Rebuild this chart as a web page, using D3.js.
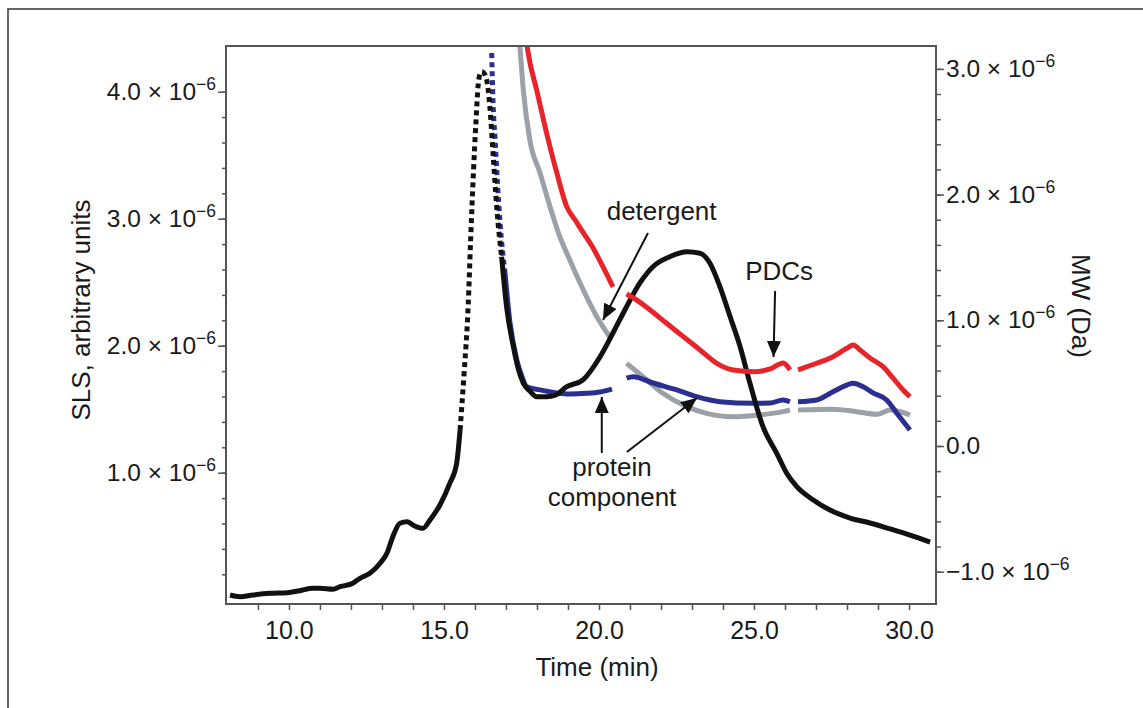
<!DOCTYPE html>
<html>
<head>
<meta charset="utf-8">
<script src="https://cdn.jsdelivr.net/npm/d3@7"></script>
<style>
  body { margin: 0; background: #fff; }
  svg { display: block; font-family: "Liberation Sans", Arial, sans-serif; }
</style>
</head>
<body>
<svg id="chart" width="1143" height="708"></svg>
<script>
// ---- data: [time (min), value (x 10^-6)] ----
// SLS trace (left axis), split where the trace is sparse (dotted)
const slsBase = [
  [8.10, 0.037], [8.42, 0.024], [8.84, 0.037], [9.39, 0.050], [9.94, 0.055],
  [10.35, 0.071], [10.77, 0.090], [11.00, 0.090], [11.42, 0.082], [11.65, 0.102],
  [12.06, 0.129], [12.29, 0.168], [12.61, 0.208], [12.94, 0.287], [13.16, 0.365],
  [13.35, 0.496], [13.58, 0.602], [13.81, 0.614], [14.00, 0.588], [14.32, 0.562],
  [14.55, 0.628], [14.87, 0.746], [15.19, 0.917], [15.41, 1.074], [15.52, 1.336]
];
const slsPeak = [
  [15.52, 1.336], [15.65, 1.785], [15.78, 2.307], [15.86, 2.832], [15.95, 3.360],
  [16.03, 3.754], [16.11, 4.069], [16.16, 4.139], [16.22, 4.157], [16.29, 4.147],
  [16.38, 4.092], [16.48, 3.882], [16.59, 3.488], [16.70, 3.094], [16.86, 2.701]
];
const slsTail = [
  [16.86, 2.701], [17.02, 2.307], [17.24, 1.992], [17.39, 1.824], [17.56, 1.704],
  [17.77, 1.643], [17.99, 1.598], [18.31, 1.598], [18.61, 1.612], [18.96, 1.677],
  [19.48, 1.730], [20.03, 1.911], [20.45, 2.100], [20.89, 2.307], [21.32, 2.494],
  [21.74, 2.622], [22.29, 2.701], [22.83, 2.740], [23.26, 2.728], [23.58, 2.649],
  [23.90, 2.465], [24.23, 2.228], [24.55, 1.994], [24.87, 1.704], [25.29, 1.362],
  [25.73, 1.155], [26.05, 0.998], [26.38, 0.890], [26.90, 0.787], [27.45, 0.706],
  [28.10, 0.643], [28.74, 0.604], [29.39, 0.557], [30.03, 0.509], [30.68, 0.454]
];

// MW traces (right axis), three segments each
const mwPdc = [
  [[17.68, 3.182], [17.77, 3.055], [17.99, 2.832], [18.31, 2.490], [18.64, 2.172],
   [18.96, 1.904], [19.23, 1.798], [19.48, 1.702], [19.81, 1.575], [20.13, 1.424], [20.45, 1.265]],
  [[20.89, 1.209], [21.22, 1.161], [21.65, 1.082], [22.18, 0.976], [22.72, 0.870],
   [23.26, 0.764], [23.80, 0.658], [24.33, 0.605], [24.98, 0.591], [25.52, 0.613],
   [25.94, 0.660], [26.16, 0.605]],
  [[26.42, 0.605], [27.02, 0.658], [27.55, 0.710], [27.99, 0.777], [28.20, 0.803],
   [28.42, 0.764], [28.74, 0.700], [29.16, 0.631], [29.48, 0.541], [29.81, 0.446], [30.03, 0.392]]
];
const mwDetergent = [
  [[17.45, 3.182], [17.56, 2.832], [17.77, 2.434], [18.10, 2.172], [18.42, 1.904],
   [18.74, 1.663], [19.06, 1.480], [19.39, 1.297], [19.93, 1.029], [20.35, 0.867]],
  [[20.89, 0.658], [21.42, 0.551], [22.06, 0.419], [22.83, 0.313], [23.47, 0.260],
   [24.32, 0.233], [25.19, 0.247], [25.94, 0.273], [26.16, 0.286]],
  [[26.42, 0.286], [27.55, 0.292], [28.31, 0.273], [28.96, 0.252], [29.39, 0.286], [30.03, 0.247]]
];
const mwProteinSteep = [
  [16.54, 3.126], [16.58, 2.753], [16.65, 2.434], [16.73, 2.076], [16.81, 1.774], [16.97, 1.376]
];
const mwProtein = [
  [[16.97, 1.376], [17.13, 0.979], [17.35, 0.684], [17.52, 0.549], [17.67, 0.472],
   [18.10, 0.446], [18.64, 0.422], [19.06, 0.414], [19.60, 0.419], [20.03, 0.430], [20.42, 0.453]],
  [[20.89, 0.539], [21.10, 0.551], [21.74, 0.501], [22.51, 0.446], [23.15, 0.392],
   [23.90, 0.352], [24.97, 0.340], [25.52, 0.342], [25.94, 0.366], [26.16, 0.352]],
  [[26.42, 0.352], [27.02, 0.366], [27.55, 0.432], [27.99, 0.485], [28.19, 0.499],
   [28.52, 0.472], [28.84, 0.422], [29.28, 0.366], [29.60, 0.263], [30.03, 0.127]]
];

// ticks
const xMajor = [10, 15, 20, 25, 30];
const xMinor = d3.range(9, 31);
const leftMajor = [1, 2, 3, 4];
const leftMinor = d3.range(1, 21).map(i => i / 5);
const rightMajor = [-1, 0, 1, 2, 3];
const rightMinor = d3.range(-5, 16).map(i => i / 5);

// annotations: text at [time, right-axis value], arrows from -> to
const labels = [
  { text: "detergent", t: 22.02, v: 1.87 },
  { text: "PDCs", t: 25.81, v: 1.39 },
  { text: "protein", t: 20.42, v: -0.167 },
  { text: "component", t: 20.42, v: -0.406 }
];
const arrows = [
  { from: [21.58, 1.695], to: [20.13, 1.002] },
  { from: [25.68, 1.233], to: [25.63, 0.708] },
  { from: [20.09, -0.056], to: [20.09, 0.390] },
  { from: [20.90, -0.048], to: [23.16, 0.382] }
];

// ---- layout ----
const svg = d3.select("#chart");
const box = { l: 226, t: 46, r: 936, b: 604 };

const x = d3.scaleLinear().domain([7.97, 30.87]).range([box.l, box.r]);
const yL = d3.scaleLinear().domain([-0.034, 4.36]).range([box.b, box.t]);
const yR = d3.scaleLinear().domain([-1.257, 3.182]).range([box.b, box.t]);

// outer figure frame
svg.append("path")
  .attr("d", `M8,708 L8,9 L1143,9`)
  .attr("fill", "none").attr("stroke", "#333").attr("stroke-width", 1.5);

svg.append("defs").append("clipPath").attr("id", "clip")
  .append("rect").attr("x", box.l).attr("y", box.t)
  .attr("width", box.r - box.l).attr("height", box.b - box.t);

svg.select("defs").append("marker")
  .attr("id", "head").attr("viewBox", "0 0 16 14")
  .attr("refX", 16).attr("refY", 7)
  .attr("markerWidth", 16).attr("markerHeight", 14)
  .attr("markerUnits", "userSpaceOnUse")
  .attr("orient", "auto")
  .append("path").attr("d", "M0,0 L16,7 L0,14 Z").attr("fill", "#111");

// axes
function styleAxis(g) {
  g.select(".domain").remove();
  g.selectAll(".tick line").attr("stroke", "#555").attr("stroke-width", 1.5);
}
svg.append("g").attr("transform", `translate(0,${box.b})`)
  .call(d3.axisBottom(x).tickValues(xMinor).tickSize(6).tickFormat("")).call(styleAxis);
svg.append("g").attr("transform", `translate(0,${box.b})`)
  .call(d3.axisBottom(x).tickValues(xMajor).tickSize(0).tickPadding(17).tickFormat(d3.format(".1f")))
  .call(styleAxis)
  .selectAll("text").attr("font-size", 25).attr("fill", "#1a1a1a")
  .attr("font-family", "'Liberation Sans Narrow', 'Liberation Sans', Arial, sans-serif");

svg.append("g").attr("transform", `translate(${box.l},0)`)
  .call(d3.axisLeft(yL).tickValues(leftMinor).tickSize(4).tickFormat("")).call(styleAxis);
svg.append("g").attr("transform", `translate(${box.l},0)`)
  .call(d3.axisLeft(yL).tickValues(leftMajor).tickSize(8).tickFormat("")).call(styleAxis);
svg.append("g").attr("transform", `translate(${box.r},0)`)
  .call(d3.axisRight(yR).tickValues(rightMinor).tickSize(5).tickFormat("")).call(styleAxis);
svg.append("g").attr("transform", `translate(${box.r},0)`)
  .call(d3.axisRight(yR).tickValues(rightMajor).tickSize(8).tickFormat("")).call(styleAxis);

function sciLabel(sel, v) {
  if (v === 0) { sel.append("tspan").text("0.0"); return; }
  sel.append("tspan").text(`${v < 0 ? "\u2212" : ""}${Math.abs(v).toFixed(1)} \u00d7 10`);
  sel.append("tspan").attr("dy", -10).attr("font-size", 17.5).text("\u22126");
}
leftMajor.forEach(v => {
  const t = svg.append("text").attr("x", box.l - 10).attr("y", yL(v) + 8)
    .attr("text-anchor", "end").attr("font-size", 24.5).attr("fill", "#1a1a1a");
  sciLabel(t, v);
});
rightMajor.forEach(v => {
  const t = svg.append("text").attr("x", box.r + 10).attr("y", yR(v) + 8)
    .attr("text-anchor", "start").attr("font-size", 24.5).attr("fill", "#1a1a1a");
  sciLabel(t, v);
});

// axis titles
svg.append("text").attr("x", 597).attr("y", 676).attr("text-anchor", "middle")
  .attr("font-size", 26).attr("fill", "#1a1a1a").text("Time (min)");
svg.append("text").attr("transform", "translate(90,310) rotate(-90)")
  .attr("text-anchor", "middle").attr("font-size", 26).attr("fill", "#1a1a1a")
  .text("SLS, arbitrary units");
svg.append("text").attr("transform", "translate(1072,306) rotate(90)")
  .attr("text-anchor", "middle").attr("font-size", 26).attr("fill", "#1a1a1a")
  .text("MW (Da)");

// traces
const plot = svg.append("g").attr("clip-path", "url(#clip)");
const lineL = d3.line().x(d => x(d[0])).y(d => yL(d[1])).curve(d3.curveMonotoneX);
const lineR = d3.line().x(d => x(d[0])).y(d => yR(d[1])).curve(d3.curveMonotoneX);

const gray = "#9ba1a7", red = "#e8232a", blue = "#2a2f90", black = "#111";

mwDetergent.forEach(seg => plot.append("path").attr("d", lineR(seg))
  .attr("fill", "none").attr("stroke", gray).attr("stroke-width", 5));
plot.append("path").attr("d", lineR(mwProteinSteep))
  .attr("fill", "none").attr("stroke", blue).attr("stroke-width", 5)
  .attr("stroke-dasharray", "5,4");
mwProtein.forEach(seg => plot.append("path").attr("d", lineR(seg))
  .attr("fill", "none").attr("stroke", blue).attr("stroke-width", 5));

plot.append("path").attr("d", lineL(slsBase))
  .attr("fill", "none").attr("stroke", black).attr("stroke-width", 5);
plot.append("path").attr("d", lineL(slsPeak))
  .attr("fill", "none").attr("stroke", black).attr("stroke-width", 5)
  .attr("stroke-dasharray", "5,4");
plot.append("path").attr("d", lineL(slsTail))
  .attr("fill", "none").attr("stroke", black).attr("stroke-width", 5);

mwPdc.forEach(seg => plot.append("path").attr("d", lineR(seg))
  .attr("fill", "none").attr("stroke", red).attr("stroke-width", 5));

// plot box
svg.append("rect").attr("x", box.l).attr("y", box.t)
  .attr("width", box.r - box.l).attr("height", box.b - box.t)
  .attr("fill", "none").attr("stroke", "#555").attr("stroke-width", 2);

// annotations
svg.append("g").selectAll("text").data(labels).join("text")
  .attr("x", d => x(d.t)).attr("y", d => yR(d.v))
  .attr("text-anchor", "middle").attr("dominant-baseline", "central")
  .attr("font-size", 26).attr("fill", "#1a1a1a").text(d => d.text);
svg.append("g").selectAll("line").data(arrows).join("line")
  .attr("x1", d => x(d.from[0])).attr("y1", d => yR(d.from[1]))
  .attr("x2", d => x(d.to[0])).attr("y2", d => yR(d.to[1]))
  .attr("stroke", "#111").attr("stroke-width", 2)
  .attr("marker-end", "url(#head)");
</script>
</body>
</html>
